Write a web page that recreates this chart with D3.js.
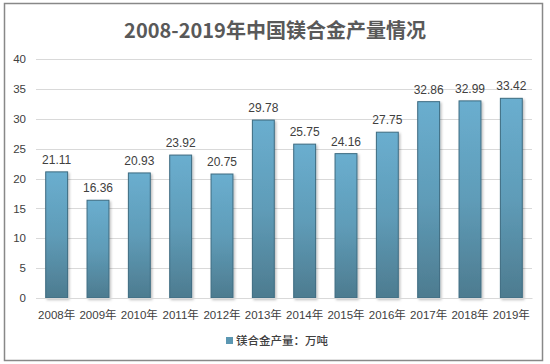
<!DOCTYPE html>
<html><head><meta charset="utf-8">
<script src="https://cdn.jsdelivr.net/npm/d3@7"></script>
<style>body{margin:0;background:#fff}svg{display:block}</style>
</head><body>
<script>
const categories = ["2008年","2009年","2010年","2011年","2012年","2013年","2014年","2015年","2016年","2017年","2018年","2019年"];
const values = [21.11,16.36,20.93,23.92,20.75,29.78,25.75,24.16,27.75,32.86,32.99,33.42];
const yTicks = [0,5,10,15,20,25,30,35,40];
const title = "2008-2019年中国镁合金产量情况";
const seriesName = "镁合金产量：万吨";

const W = 550, H = 364;
const font = "'Liberation Sans','Noto Sans CJK SC',sans-serif";
const svg = d3.select("body").append("svg").attr("width", W).attr("height", H);

const defs = svg.append("defs");
const g = defs.append("linearGradient").attr("id","bg").attr("x1",0).attr("y1",0).attr("x2",0).attr("y2",1);
g.append("stop").attr("offset","0%").attr("stop-color","#6aaecf");
g.append("stop").attr("offset","50%").attr("stop-color","#5f9cb8");
g.append("stop").attr("offset","100%").attr("stop-color","#4d7b8f");
const f = defs.append("filter").attr("id","sh").attr("x","-20%").attr("y","-20%").attr("width","150%").attr("height","150%");
f.append("feDropShadow").attr("dx",1.5).attr("dy",1.5).attr("stdDeviation",1).attr("flood-color","#000").attr("flood-opacity",0.25);

svg.append("rect").attr("x",4.5).attr("y",3.5).attr("width",538).attr("height",357)
  .attr("fill","#fff").attr("stroke","#888").attr("stroke-width",1.5);

svg.append("text").attr("x",275).attr("y",38).attr("text-anchor","middle")
  .attr("font-family","'Noto Sans CJK SC',sans-serif").attr("font-weight","bold")
  .attr("font-size",20).attr("fill","#595959").text(title);

const x = d3.scaleBand().domain(categories).range([36,532]).paddingInner(0.47).paddingOuter(0.235);
const y = d3.scaleLinear().domain([0,40]).range([298,59]);

const grid = svg.append("g");
grid.selectAll("line").data(yTicks).join("line")
  .attr("x1",36).attr("x2",532).attr("y1",d=>Math.round(y(d))+0.5).attr("y2",d=>Math.round(y(d))+0.5)
  .attr("stroke","#d9d9d9").attr("stroke-width",1);

const yAxis = svg.append("g").attr("transform","translate(26,0)")
  .call(d3.axisLeft(y).tickValues(yTicks).tickSize(0).tickPadding(0));
yAxis.select(".domain").remove();
yAxis.selectAll("text").attr("font-family",font).attr("font-size",11.5).attr("fill","#404040");

svg.append("g").selectAll("rect").data(values).join("rect")
  .attr("x",(d,i)=>x(categories[i])).attr("width",x.bandwidth())
  .attr("y",d=>y(d)).attr("height",d=>y(0)-y(d))
  .attr("fill","url(#bg)").attr("stroke","#3d6b80").attr("stroke-width",1)
  .attr("filter","url(#sh)");

svg.append("g").selectAll("text").data(values).join("text")
  .attr("x",(d,i)=>x(categories[i])+x.bandwidth()/2).attr("y",d=>y(d)-8)
  .attr("text-anchor","middle").attr("font-family",font).attr("font-size",12)
  .attr("fill","#404040").text(d=>d.toFixed(2));

const xAxis = svg.append("g").attr("transform","translate(0,298)")
  .call(d3.axisBottom(x).tickSize(0).tickPadding(13));
xAxis.select(".domain").attr("stroke","#d9d9d9");
xAxis.selectAll("text").attr("font-family",font).attr("font-size",11.5).attr("fill","#404040");

const lg = svg.append("g");
lg.append("rect").attr("x",226).attr("y",337).attr("width",7).attr("height",7).attr("fill","#5b97b2");
lg.append("text").attr("x",236).attr("y",345).attr("font-family","'Noto Sans CJK SC',sans-serif")
  .attr("font-weight",500).attr("font-size",11.5).attr("fill","#404040").text(seriesName);
</script>
</body></html>
